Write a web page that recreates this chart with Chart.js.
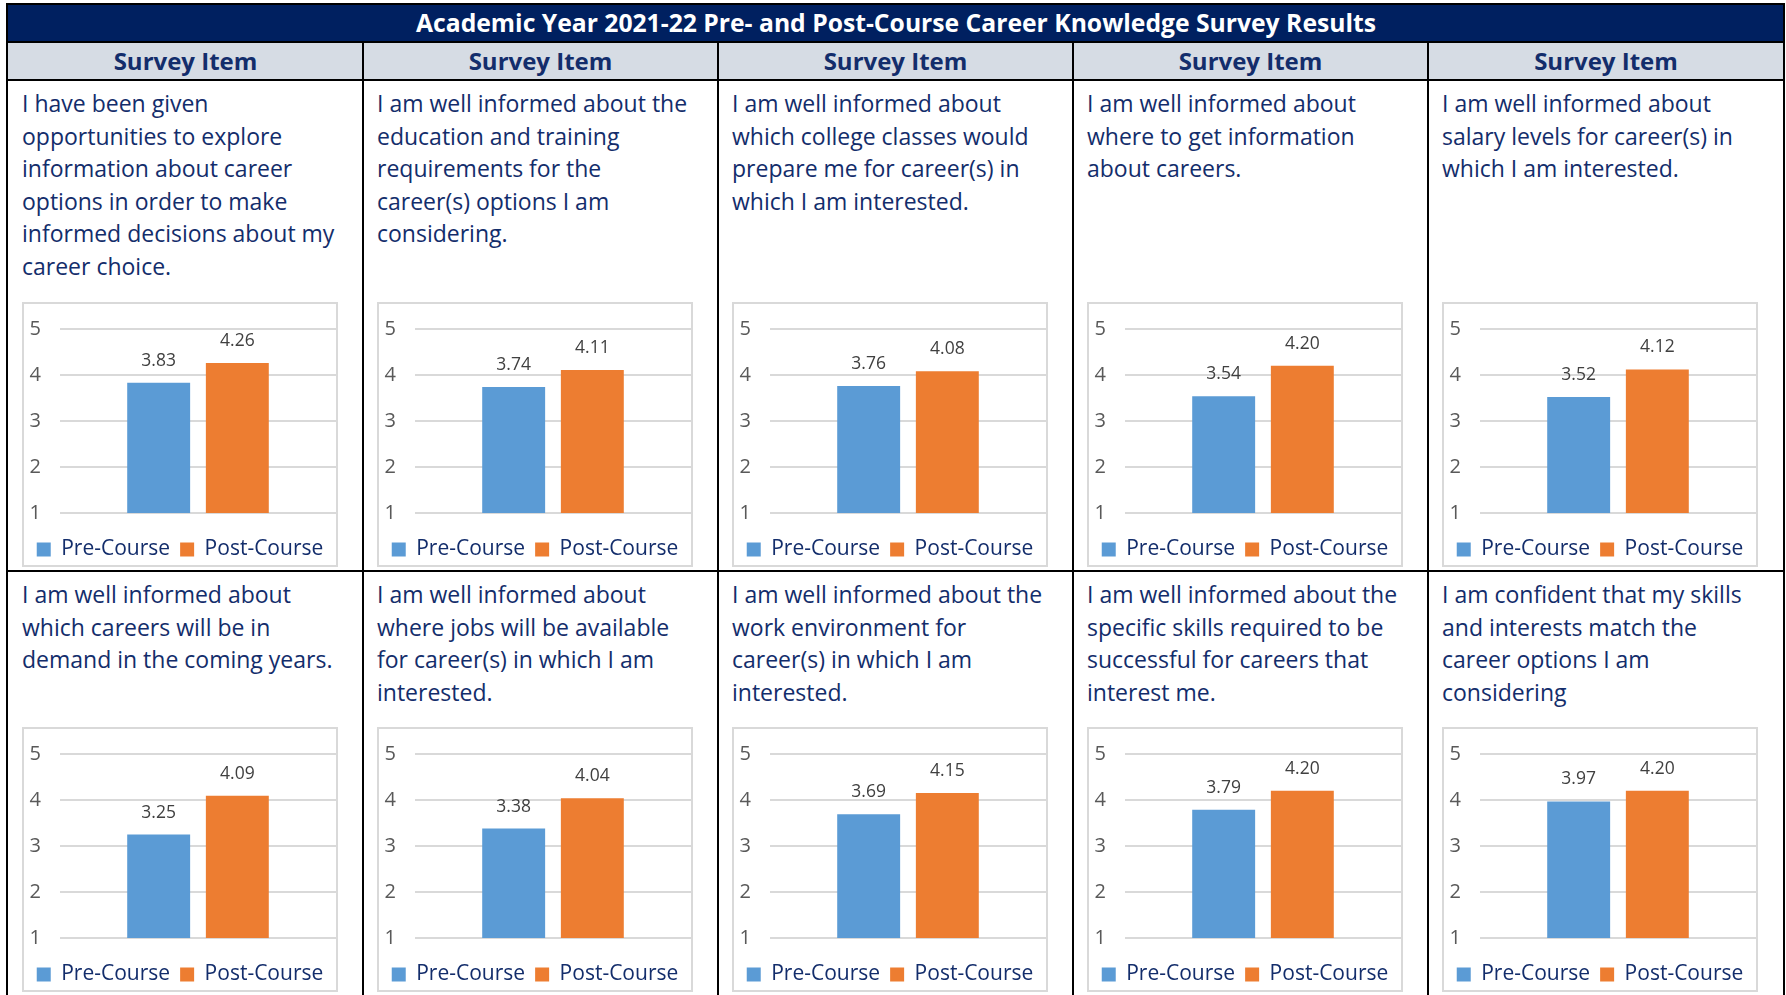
<!DOCTYPE html>
<html>
<head>
<meta charset="utf-8">
<script src="https://cdn.jsdelivr.net/npm/chart.js@4.4.1/dist/chart.umd.min.js"></script>
<style>
  html,body{margin:0;padding:0;background:#fff;width:1786px;height:995px;overflow:hidden;font-family:"Open Sans",sans-serif;}
  .bk{position:absolute;background:#000;}
  .title{position:absolute;left:7px;top:4px;width:1778px;height:38px;background:#002060;color:#fff;font-weight:700;font-size:24.7px;line-height:38px;text-align:center;white-space:nowrap;}
  .hdr{position:absolute;top:42px;height:38px;background:#D6DCE4;}
  .hdrtxt{position:absolute;top:43px;height:36px;line-height:36px;text-align:center;font-weight:700;font-size:24px;color:#132D6B;white-space:nowrap;}
  .item{position:absolute;font-size:23px;line-height:32.5px;color:#132D6B;white-space:nowrap;}
  .box{position:absolute;width:316px;height:265px;border:2px solid #D9D9D9;box-sizing:border-box;background:#fff;}
  .box canvas{position:absolute;left:0;top:0;}
</style>
</head>
<body>
<div id="root"></div>
<script>
// ---- data ----
const titleText = "Academic Year 2021-22 Pre- and Post-Course Career Knowledge Survey Results";
const headerText = "Survey Item";
const seriesNames = ["Pre-Course", "Post-Course"];
const preCourse  = [3.83, 3.74, 3.76, 3.54, 3.52, 3.25, 3.38, 3.69, 3.79, 3.97];
const postCourse = [4.26, 4.11, 4.08, 4.20, 4.12, 4.09, 4.04, 4.15, 4.20, 4.20];
const yTicks = [1, 2, 3, 4, 5];
const itemLines = [
  ["I have been given","opportunities to explore","information about career","options in order to make","informed decisions about my","career choice."],
  ["I am well informed about the","education and training","requirements for the","career(s) options I am","considering."],
  ["I am well informed about","which college classes would","prepare me for career(s) in","which I am interested."],
  ["I am well informed about","where to get information","about careers."],
  ["I am well informed about","salary levels for career(s) in","which I am interested."],
  ["I am well informed about","which careers will be in","demand in the coming years."],
  ["I am well informed about","where jobs will be available","for career(s) in which I am","interested."],
  ["I am well informed about the","work environment for","career(s) in which I am","interested."],
  ["I am well informed about the","specific skills required to be","successful for careers that","interest me."],
  ["I am confident that my skills","and interests match the","career options I am","considering"]
];

// ---- layout ----
const root = document.getElementById('root');
const colLeft = [8, 363, 718, 1073, 1428];
const colRight = 1784;
const rowTextTop = [87, 578];
const rowBoxTop = [302, 727];
const colors = ['#5B9BD5', '#ED7D31'];

function el(cls, style, html){
  const d = document.createElement('div');
  d.className = cls;
  Object.assign(d.style, style);
  if (html !== undefined) d.innerHTML = html;
  root.appendChild(d);
  return d;
}

el('title', {}, titleText);
el('hdr', {left:'7px', width:'1778px'});
for (let c = 0; c < 5; c++) {
  const l = colLeft[c], r = c < 4 ? colLeft[c+1] : colRight;
  el('hdrtxt', {left:l+'px', width:(r-l)+'px'}, headerText);
}
// black rules
el('bk', {left:'7px', top:'41px', width:'1778px', height:'2px'});
el('bk', {left:'7px', top:'79px', width:'1778px', height:'2px'});
el('bk', {left:'7px', top:'570px', width:'1778px', height:'2px'});
el('bk', {left:'7px', top:'3px', width:'1778px', height:'2px'});
el('bk', {left:'6px', top:'3px', width:'2px', height:'992px'});
el('bk', {left:'1783px', top:'3px', width:'2px', height:'992px'});
for (let c = 1; c < 5; c++) el('bk', {left:(colLeft[c]-1)+'px', top:'41px', width:'2px', height:'954px'});

const valueLabels = {
  id: 'valueLabels',
  afterDatasetsDraw(chart) {
    const ctx = chart.ctx;
    ctx.save();
    ctx.font = '17.5px "Open Sans"';
    ctx.fillStyle = '#404040';
    ctx.textAlign = 'center';
    ctx.textBaseline = 'alphabetic';
    chart.data.datasets.forEach((ds, di) => {
      chart.getDatasetMeta(di).data.forEach((bar, j) => {
        ctx.fillText(ds.data[j].toFixed(2), bar.x, bar.y - 17);
      });
    });
    ctx.restore();
  }
};

function build() {
  for (let i = 0; i < 10; i++) {
    const row = Math.floor(i / 5), c = i % 5;
    const l = colLeft[c];
    el('item', {left:(l+14)+'px', top:rowTextTop[row]+'px'}, itemLines[i].join('<br>'));
    const box = el('box', {left:(l+14)+'px', top:rowBoxTop[row]+'px'});
    const cv = document.createElement('canvas');
    cv.width = 312; cv.height = 266;
    cv.style.width = '312px'; cv.style.height = '266px';
    box.appendChild(cv);
    new Chart(cv.getContext('2d'), {
      type: 'bar',
      data: {
        labels: [''],
        datasets: [
          {label: seriesNames[0], data: [preCourse[i]], backgroundColor: colors[0], categoryPercentage: 0.57, barPercentage: 0.8},
          {label: seriesNames[1], data: [postCourse[i]], backgroundColor: colors[1], categoryPercentage: 0.57, barPercentage: 0.8}
        ]
      },
      options: {
        responsive: false,
        animation: false,
        devicePixelRatio: 1,
        layout: {padding: {top: 25, left: 0, right: 0, bottom: 0}},
        scales: {
          x: {
            display: true,
            ticks: {display: false},
            grid: {display: false, drawTicks: false},
            border: {display: false},
            afterFit: (s) => { s.height = 16; }
          },
          y: {
            min: yTicks[0], max: yTicks[yTicks.length-1],
            afterBuildTicks: (s) => { s.ticks = yTicks.map(v => ({value: v})); },
            afterFit: (s) => { s.width = 36; s.paddingTop = 0; s.paddingBottom = 0; },
            ticks: {padding: 19, color: '#595959', font: {size: 20, family: '"Open Sans"'}},
            grid: {color: '#D9D9D9', lineWidth: 2, drawTicks: false},
            border: {display: false}
          }
        },
        plugins: {
          tooltip: {enabled: false},
          legend: {
            position: 'bottom',
            labels: {boxWidth: 14, boxHeight: 14, padding: 10, color: '#132D6B', font: {size: 21, family: '"Open Sans"'}}
          }
        }
      },
      plugins: [valueLabels]
    });
  }
}

Promise.all([
  document.fonts.load('20px "Open Sans"'),
  document.fonts.load('bold 20px "Open Sans"')
]).then(build, build);
</script>
</body>
</html>
